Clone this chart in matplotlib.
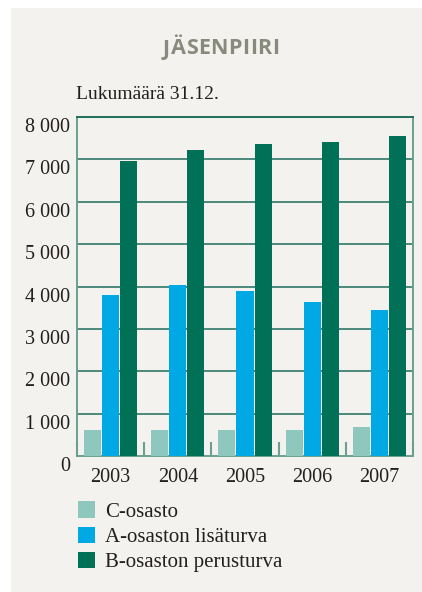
import matplotlib
matplotlib.use('Agg')
import matplotlib.pyplot as plt
import numpy as np
from matplotlib.patches import Rectangle
from matplotlib.transforms import ScaledTranslation

years = ['2003', '2004', '2005', '2006', '2007']
c_osasto = [610, 610, 610, 610, 680]
a_lisaturva = [3800, 4040, 3900, 3640, 3450]
b_perusturva = [6950, 7210, 7370, 7400, 7560]
series_names = ['C-osasto', 'A-osaston lisäturva', 'B-osaston perusturva']
yticks = [0, 1000, 2000, 3000, 4000, 5000, 6000, 7000, 8000]
title = 'JÄSENPIIRI'

colors = ['#8dc7bd', '#00a9e4', '#007056']
grid_col = '#1f6e5c'
spine_col = '#6a9f92'
text_col = '#231f20'
serif = ['Liberation Serif', 'DejaVu Serif']
W, H = 422, 592

fig = plt.figure(figsize=(W / 100, H / 100), dpi=100)
fig.patch.set_facecolor('white')
fig.patches.append(Rectangle((11 / W, 0), 1, 1 - 8 / H, transform=fig.transFigure,
                             facecolor='#f3f2ee', edgecolor='none', zorder=-10))

ax = fig.add_axes([77 / W, 1 - 456 / H, 336 / W, 339 / H])
ax.set_facecolor('#f3f2ee')

x = np.arange(len(years))
w = 0.253
step = 0.268
for i, vals in enumerate([c_osasto, a_lisaturva, b_perusturva]):
    ax.bar(x + (i - 1) * step, vals, width=w, color=colors[i], label=series_names[i], zorder=3)

ax.set_xlim(-0.5, len(years) - 0.5)
ax.set_ylim(0, 8000)
ax.set_yticks(yticks)
ax.set_yticklabels(['0' if v == 0 else '{:,}'.format(v).replace(',', ' ') for v in yticks],
                   fontsize=14.5, family=serif, color=text_col)
ax.tick_params(axis='y', length=0, pad=5)
off = ScaledTranslation(0, -8 / 100, fig.dpi_scale_trans)
for lab in ax.get_yticklabels():
    lab.set_transform(lab.get_transform() + off)

ax.set_xticks(x)
ax.set_xticklabels(years, fontsize=14.5, family=serif, color=text_col)
ax.tick_params(axis='x', which='major', length=0, pad=9)
ax.set_xticks(np.arange(len(years) + 1) - 0.5, minor=True)
ax.tick_params(axis='x', which='minor', direction='in', length=10, width=1.5, color=spine_col)

for v in yticks[1:-1]:
    ax.axhline(v, color=grid_col, lw=1.1, zorder=1)
for s in ax.spines.values():
    s.set_color(spine_col)
    s.set_linewidth(1.4)
ax.spines['top'].set_color(grid_col)

# spaced-out title, letter by letter
renderer = fig.canvas.get_renderer()
letters = []
for ch in title:
    t = fig.text(0, 1 - 49 / H, ch, ha='left', va='center', fontsize=15.5, fontweight='bold',
                 family=['Open Sans', 'DejaVu Sans'], color='#878a7c')
    letters.append((t, t.get_window_extent(renderer).width))
total = 116
gap = (total - sum(wd for _, wd in letters)) / (len(letters) - 1)
xpos = 221 - total / 2
for t, wd in letters:
    t.set_x(xpos / W)
    xpos += wd + gap

fig.text(76 / W, 1 - 99 / H, 'Lukumäärä 31.12.', ha='left', va='baseline', fontsize=14,
         family=serif, color=text_col)

leg = ax.legend(loc='upper left', bbox_to_anchor=(70 / W, 1 - 493 / H),
                bbox_transform=fig.transFigure, frameon=False, ncol=1,
                prop={'family': serif, 'size': 15}, handlelength=0.82, handleheight=0.82,
                handletextpad=0.45, labelspacing=0.24, borderaxespad=0)
for t in leg.get_texts():
    t.set_color(text_col)

fig.savefig('out.png', dpi=100)
